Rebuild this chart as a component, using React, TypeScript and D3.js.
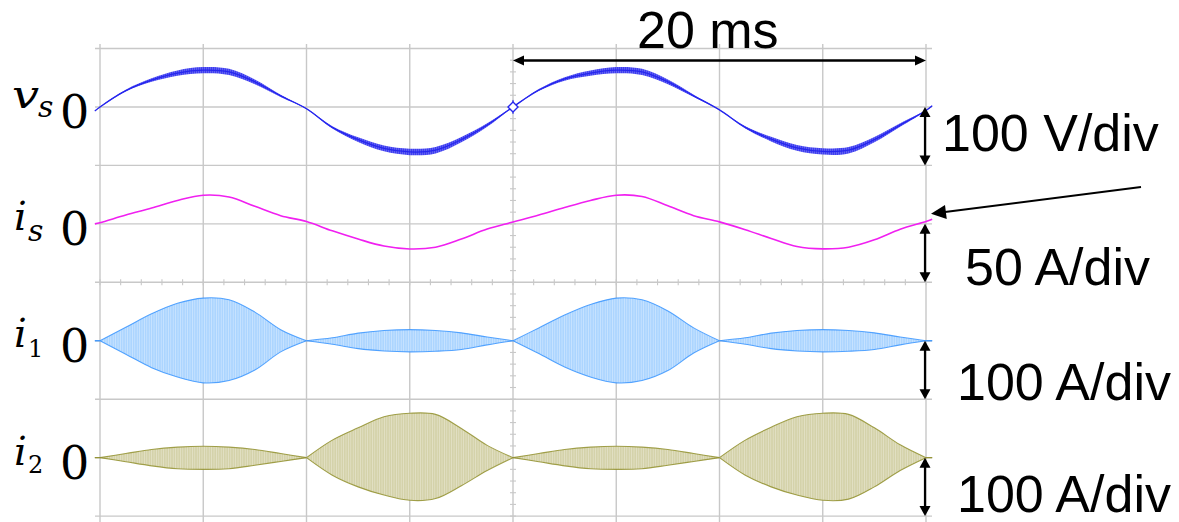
import React from "react";
import * as d3 from "d3";

// Sample instants (ms) of the oscilloscope capture, two mains periods.
const timeMs = [
  -0.25, 0, 1.25, 2.5, 3.75, 5, 6.25, 7.5, 8.75, 10, 11.25, 12.5, 13.75, 15, 16.25, 17.5, 18.75,
  20, 21.25, 22.5, 23.75, 25, 26.25, 27.5, 28.75, 30, 31.25, 32.5, 33.75, 35, 36.25, 37.5, 38.75, 40, 40.3,
];

// Grid voltage v_s (V) and the half-width of its switching ripple (V).
const vsVolts = [
  -7, 0, 28, 46, 58, 63, 60, 43, 19, -3, -35, -56, -71, -77, -74, -56, -31,
  0, 29, 48, 58, 63, 60, 43, 19, -5, -35, -55, -70, -76, -74, -56, -31, -6, 2,
];
const vsRippleVolts = [
  0.6, 0.8, 1.6, 3, 4.5, 5.2, 5.2, 4, 2, 0.8, 2, 4, 5, 5.5, 5.5, 4.5, 3,
  0.8, 1.6, 3, 4.5, 5.2, 5.2, 4, 2, 0.8, 2, 4, 5, 5.5, 5.5, 4.5, 3, 0.8, 0.6,
];

// Grid current i_s (A).
const isAmps = [
  0, 1, 7.5, 13.5, 20, 24.5, 23, 15, 7, 2, -6, -13, -19, -21.5, -20, -13, -4.5,
  1.5, 7.5, 14, 20, 24.5, 23.4, 15.4, 7, 1.7, -5, -12.5, -19.4, -21.4, -20, -13.7, -4.6, 2, 4,
];

// Switched branch currents: upper and lower envelopes (A).
const i1MaxAmps = [
  0, 0, 23, 46, 64, 73, 70, 49, 19, 0, 5, 13, 17.5, 19, 17.5, 13.5, 6.5,
  0, 22, 44, 62, 73, 70, 51, 22, 0, 5, 13, 17.5, 19, 17.5, 13.5, 6.5, 0, 0,
];
const i1MinAmps = [
  0, 0, -23, -46, -62, -72, -68, -50, -19, 0, -6, -13.5, -17.5, -19, -18, -15, -7,
  0, -22, -45, -62, -72, -68, -51, -21, 0, -6, -13.5, -17.5, -19, -18, -15, -7, 0, 0,
];
const i2MaxAmps = [
  0, 0, 7, 14, 18, 19.5, 18, 14, 7, 0, 30, 51, 70, 76, 74, 50, 21,
  0, 7, 14, 18, 19.5, 18, 14, 7, 0, 30, 52, 70, 76, 74, 51, 22, 0, 0,
];
const i2MinAmps = [
  0, 0, -7, -14, -19, -20, -19, -13, -6.5, 0, -30, -50, -64, -73, -70, -48, -22,
  0, -7, -14, -19, -20, -19, -13, -6.5, 0, -30, -50, -64, -73, -71, -50, -22, 0, 0,
];

const unitsPerDiv = [100, 50, 100, 100];
const scaleLabels = ["100 V/div", "50 A/div", "100 A/div", "100 A/div"];
const traceNames = [
  { main: "v", sub: "s" },
  { main: "i", sub: "s" },
  { main: "i", sub: "1" },
  { main: "i", sub: "2" },
];
const periodLabel = "20 ms";

const W = 1179;
const H = 522;

const x = d3.scaleLinear().domain([0, 40]).range([100, 926]);
const divY = d3.scaleLinear().domain([0, 8]).range([48.5, 516.1]);
const divH = divY(1) - divY(0);

const rowScale = (row: number) => {
  const zero = divY(2 * row + 1);
  const u = unitsPerDiv[row];
  return d3.scaleLinear().domain([-u, u]).range([zero + divH, zero - divH]);
};
const rows = [0, 1, 2, 3].map(rowScale);

const curve = d3.curveCatmullRom.alpha(0.5);

type Pt = { t: number; hi: number; lo: number };

const arrowHead = (tx: number, ty: number, dx: number, dy: number, len: number, half: number) => {
  const L = Math.hypot(dx, dy);
  const ux = dx / L;
  const uy = dy / L;
  const bx = tx - ux * len;
  const by = ty - uy * len;
  const px = -uy * half;
  const py = ux * half;
  return `M${tx},${ty}L${bx + px},${by + py}L${bx - px},${by - py}Z`;
};

// Split an envelope into lobes between the points where it pinches to zero.
function lobes(hi: number[], lo: number[]): Pt[][] {
  const out: Pt[][] = [];
  let start = 0;
  for (let i = 1; i < timeMs.length; i++) {
    if ((hi[i] === 0 && lo[i] === 0) || i === timeMs.length - 1) {
      const seg: Pt[] = [];
      for (let k = start; k <= i; k++) seg.push({ t: timeMs[k], hi: hi[k], lo: lo[k] });
      out.push(seg);
      start = i;
    }
  }
  return out;
}

function Envelope({
  row, hi, lo, fill, edge,
}: { row: number; hi: number[]; lo: number[]; fill: string; edge: string }) {
  const y = rows[row];
  const area = d3.area<Pt>().x((d) => x(d.t)).y0((d) => y(d.lo)).y1((d) => y(d.hi)).curve(curve);
  const top = d3.line<Pt>().x((d) => x(d.t)).y((d) => y(d.hi)).curve(curve);
  const bot = d3.line<Pt>().x((d) => x(d.t)).y((d) => y(d.lo)).curve(curve);
  return (
    <g>
      {lobes(hi, lo).map((seg, i) => (
        <g key={i}>
          <path d={area(seg) || ""} fill={fill} />
          <path d={top(seg) || ""} fill="none" stroke={edge} strokeWidth={1.1} strokeOpacity={0.85} />
          <path d={bot(seg) || ""} fill="none" stroke={edge} strokeWidth={1.1} strokeOpacity={0.85} />
        </g>
      ))}
    </g>
  );
}

export default function App() {
  const gridColor = "#c8c8c8";
  const vLines = d3.range(0, 41, 5);
  const hLines = d3.range(0, 9);
  const minorY = d3.range(0, 8.01, 0.2);
  const minorX = d3.range(0, 40.01, 1);

  const yVs = rows[0];
  const yIs = rows[1];
  const vsPts = timeMs.map((t, i) => ({ t, v: vsVolts[i], r: vsRippleVolts[i] }));
  const vsBand = d3
    .area<{ t: number; v: number; r: number }>()
    .x((d) => x(d.t))
    .y0((d) => yVs(d.v - d.r))
    .y1((d) => yVs(d.v + d.r))
    .curve(curve);
  const vsLine = d3
    .line<{ t: number; v: number; r: number }>()
    .x((d) => x(d.t))
    .y((d) => yVs(d.v))
    .curve(curve);
  const isLine = d3
    .line<number>()
    .x((_, i) => x(timeMs[i]))
    .y((d) => yIs(d))
    .curve(curve);

  const arrowX = x(40) - 1;
  const spanY = 60.5;
  const trig = { x: x(20), y: yVs(0) };
  const pointerTip = { x: x(40) + 5, y: yIs(0) - 10 };
  const pointerTail = { x: 1141, y: 187 };

  return (
    <svg width={W} height={H} style={{ position: "absolute", left: 0, top: 0, background: "#fff" }}>
      <defs>
        <pattern id="i1tex" patternUnits="userSpaceOnUse" width={2.4} height={8}>
          <rect width={2.4} height={8} fill="#acd5ff" />
          <rect width={0.6} height={8} fill="#d4eaff" />
        </pattern>
        <pattern id="i2tex" patternUnits="userSpaceOnUse" width={2.4} height={8}>
          <rect width={2.4} height={8} fill="#d4d2aa" />
          <rect width={0.6} height={8} fill="#e8e7cf" />
        </pattern>
        <pattern id="vstex" patternUnits="userSpaceOnUse" width={2} height={8}>
          <rect width={2} height={8} fill="#3d3df0" />
          <rect width={0.7} height={8} fill="#7070f4" />
        </pattern>
      </defs>
      <rect width={W} height={H} fill="#fff" />

      {/* graticule */}
      <g stroke={gridColor} strokeWidth={1.4}>
        {vLines.map((t) => (
          <line key={"v" + t} x1={x(t)} x2={x(t)} y1={44} y2={H} />
        ))}
        {hLines.map((d) => (
          <line key={"h" + d} x1={95} x2={932} y1={divY(d)} y2={divY(d)} />
        ))}
        {minorY.map((d) => (
          <line key={"my" + d} x1={x(20) - 3} x2={x(20) + 3} y1={divY(d)} y2={divY(d)} strokeWidth={1.1} />
        ))}
        {minorX.map((t) => (
          <line key={"mx" + t} x1={x(t)} x2={x(t)} y1={divY(4) - 3} y2={divY(4) + 3} strokeWidth={1.1} />
        ))}
      </g>

      {/* switched branch currents */}
      <Envelope row={2} hi={i1MaxAmps} lo={i1MinAmps} fill="url(#i1tex)" edge="#3a95ff" />
      <Envelope row={3} hi={i2MaxAmps} lo={i2MinAmps} fill="url(#i2tex)" edge="#92902e" />

      {/* grid voltage */}
      <path d={vsBand(vsPts) || ""} fill="url(#vstex)" />
      <path d={vsLine(vsPts) || ""} fill="none" stroke="#2626ee" strokeWidth={1.3} />

      {/* grid current */}
      <path d={isLine(isAmps) || ""} fill="none" stroke="#f020f0" strokeWidth={1.6} />

      {/* trigger marker */}
      <line x1={trig.x} x2={trig.x} y1={trig.y - 7} y2={trig.y + 7} stroke="#2626ee" strokeWidth={1} />
      <path
        d={`M${trig.x - 5},${trig.y}L${trig.x},${trig.y - 5}L${trig.x + 5},${trig.y}L${trig.x},${trig.y + 5}Z`}
        fill="#fff"
        stroke="#2626ee"
        strokeWidth={1.4}
      />

      {/* period span */}
      <g fill="#000" stroke="none">
        <line x1={x(20) + 8} x2={x(40) - 8} y1={spanY} y2={spanY} stroke="#000" strokeWidth={2.6} />
        <path d={arrowHead(x(20), spanY, -1, 0, 11, 5)} />
        <path d={arrowHead(x(40), spanY, 1, 0, 11, 5)} />
      </g>
      <text x={637} y={48} fontFamily="'Liberation Sans', Arial, sans-serif" fontSize={52} fill="#000">
        {periodLabel}
      </text>

      {/* per-division scale arrows */}
      {rows.map((y, r) => {
        const y0 = y(0);
        const y1 = y(-unitsPerDiv[r]);
        return (
          <g key={"sa" + r} fill="#000">
            <line x1={arrowX} x2={arrowX} y1={y0 + 6} y2={y1 - 6} stroke="#000" strokeWidth={2.2} />
            <path d={arrowHead(arrowX, y0, 0, -1, 10, 5.5)} />
            <path d={arrowHead(arrowX, y1, 0, 1, 10, 5.5)} />
          </g>
        );
      })}

      {/* pointer to the current trace */}
      <g fill="#000">
        <line
          x1={pointerTail.x}
          y1={pointerTail.y}
          x2={pointerTip.x + 12}
          y2={pointerTip.y - 1.6}
          stroke="#000"
          strokeWidth={2}
        />
        <path
          d={arrowHead(pointerTip.x, pointerTip.y, pointerTip.x - pointerTail.x, pointerTip.y - pointerTail.y, 15, 7)}
        />
      </g>

      {/* scale labels */}
      {[
        { x: 942, y: 151 },
        { x: 965, y: 285 },
        { x: 957, y: 400 },
        { x: 957, y: 512 },
      ].map((p, i) => (
        <text key={"sl" + i} x={p.x} y={p.y} fontFamily="'Liberation Sans', Arial, sans-serif" fontSize={52} fill="#000">
          {scaleLabels[i]}
        </text>
      ))}

      {/* trace names and zero markers */}
      {traceNames.map((n, r) => {
        const z = rows[r](0);
        const isDigit = /\d/.test(n.sub);
        const mainBase = [z + 1, z + 6, z + 6, z + 7][r];
        const subBase = [z + 10, z + 17, z + 16, z + 15][r];
        const subX = n.main === "v" ? 38 : 28;
        return (
          <g key={"tn" + r} fontFamily="'DejaVu Serif', serif" fill="#000">
            <text
              x={n.main === "v" ? 12 : 14}
              y={mainBase}
              fontSize={40}
              fontStyle="italic"
              transform={n.main === "v" ? `translate(${-12 * 0.2},0) scale(1.2,1)` : undefined}
            >
              {n.main}
            </text>
            <text x={subX} y={subBase} fontSize={isDigit ? 24 : 30} fontStyle={isDigit ? "normal" : "italic"}>
              {n.sub}
            </text>
            <text x={60} y={z + 21} fontSize={46}>
              0
            </text>
          </g>
        );
      })}
    </svg>
  );
}
